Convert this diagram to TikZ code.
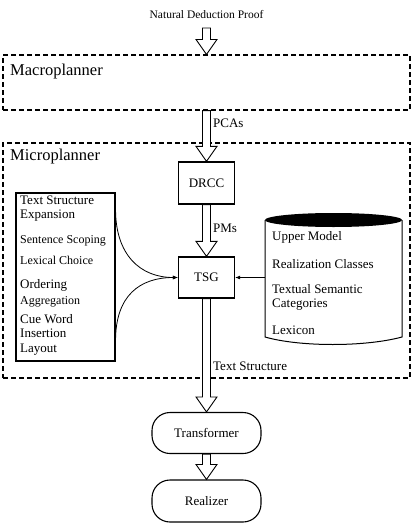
\documentclass[tikz,border=0pt]{standalone}
\usepackage{fontspec}
\setmainfont{Liberation Serif}
\usepackage{tikz}
\usetikzlibrary{calc,arrows.meta,positioning}

\tikzset{
  box/.style={draw, line width=1.3pt, minimum width=56pt, minimum height=42pt, inner sep=0pt, font=\fontsize{13}{14}\selectfont},
  stadium/.style={draw, line width=1.1pt, rounded corners=18pt, minimum width=109pt, minimum height=41pt, inner sep=0pt, font=\fontsize{13}{14}\selectfont},
  plan/.style={draw, line width=1.1pt, dash pattern=on 5pt off 3pt, inner sep=0pt},
  title/.style={inner sep=0pt, anchor=west, font=\fontsize{16.5}{18}\selectfont},
  txt/.style={inner sep=0pt, anchor=west, align=left, font=\fontsize{13}{14}\selectfont},
  small/.style={txt, font=\fontsize{12}{14}\selectfont},
  hollow/.style={draw, line width=0.9pt, fill=white, line join=miter},
  feed/.style={line width=0.8pt, -{Latex[length=5pt,width=4pt]}},
}
% block arrow from #1 straight down to the tip #2
\newcommand\hollowarrow[2]{%
  \draw[hollow] ($(#1)+(-4,0)$) -- ($(#2)+(-4,-15)$) -- ($(#2)+(-10.5,-15)$) -- (#2)
    -- ($(#2)+(10.5,-15)$) -- ($(#2)+(4,-15)$) -- ($(#1)+(4,0)$) -- cycle;}

\begin{document}
\begin{tikzpicture}[x=1pt, y=-1pt]
    \useasboundingbox (0,0) rectangle (416,530);

    \node[inner sep=0pt, font=\fontsize{11.5}{13}\selectfont] (proof) at (206.5,15) {Natural Deduction Proof};
    \coordinate (proofout) at (206.5,28);

    \node[plan, minimum width=407pt, minimum height=55pt] (macro) at (206.5,82.5) {};
    \node[title] (macrolbl) at (10,72) {Macroplanner};

    \node[plan, minimum width=407pt, minimum height=235pt] (micro) at (206.5,260.5) {};
    \node[title] (microlbl) at (10,157) {Microplanner};

    \node[box] (drcc) at (206.5,183) {DRCC};
    \node[box, minimum height=41pt] (tsg) at (206.5,277.5) {TSG};

    \node[stadium] (trans) at (206.5,433) {Transformer};
    \node[stadium, minimum height=42pt] (real) at (206.5,501) {Realizer};

    \hollowarrow{proofout}{macro.north}
    \hollowarrow{macro.south}{drcc.north}
    \hollowarrow{drcc.south}{tsg.north}
    \hollowarrow{tsg.south}{trans.north}
    \hollowarrow{trans.south}{real.north}

    \node[txt] (pcas) at (213,123) {PCAs};
    \node[txt] (pms) at (213,228) {PMs};
    \node[txt] (tstruct) at (213,366) {Text Structure};

    % operations
    \node[draw, line width=1.1pt, minimum width=99pt, minimum height=168pt, inner sep=0pt] (ops) at (65.5,277) {};
    \node[txt] (expand) at (20,209) {Text Structure\\Expansion};
    \node[small] (scope) at (20,241) {Sentence Scoping};
    \node[small] (lexch) at (20,260) {Lexical Choice};
    \node[txt] (order) at (20,285) {Ordering};
    \node[small] (aggr) at (20,302) {Aggregation};
    \node[txt] (cue) at (20,326.5) {Cue Word\\Insertion};
    \node[txt] (layout) at (20,350) {Layout};

    \coordinate (opsa) at ($(ops.north east)+(0,17)$);
    \coordinate (opsb) at ($(ops.south east)+(0,-21)$);
    \draw[feed] (opsa) .. controls ($(opsa)+(0,45)$) and ($(tsg.west)+(-38,0)$) .. (tsg.west);
    \draw[feed] (opsb) .. controls ($(opsb)+(0,-45)$) and ($(tsg.west)+(-38,0)$) .. (tsg.west);

    % resources
    \fill (333.5,220) ellipse (68.5 and 7);
    \draw[line width=1pt] (265,220) -- (265,337) .. controls (300,347) and (365,347) .. (402,337) -- (402,220);
    \node[txt] (upper) at (272,237) {Upper Model};
    \node[txt] (rclass) at (272,264) {Realization Classes};
    \node[txt] (tsc) at (272,297.5) {Textual Semantic\\Categories};
    \node[txt] (lexicon) at (272,330) {Lexicon};
    \coordinate (storein) at (265,277.5);
    \draw[feed] (storein) -- (tsg.east);
\end{tikzpicture}
\end{document}
